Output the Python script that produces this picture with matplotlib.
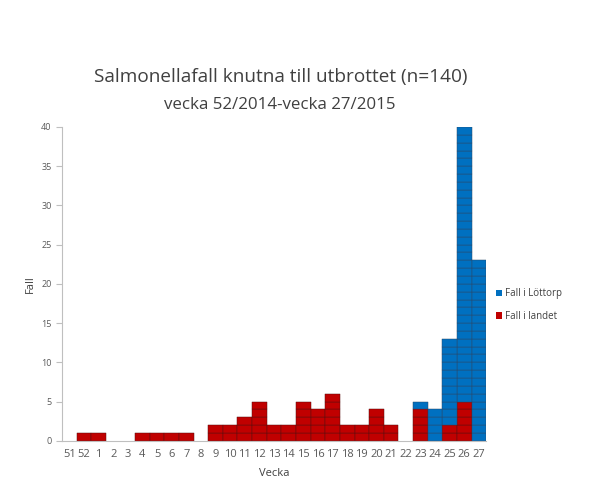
import numpy as np
import matplotlib.pyplot as plt
from matplotlib.patches import Patch

plt.rcParams['font.family'] = ['Open Sans', 'DejaVu Sans']

weeks = ['51', '52'] + [str(w) for w in range(1, 28)]
landet = [0, 1, 1, 0, 0, 1, 1, 1, 1, 0, 2, 2, 3, 5, 2, 2, 5, 4, 6, 2, 2, 4, 2, 0, 4, 0, 2, 5, 0]
lottorp = [0] * 24 + [1, 4, 11, 35, 23]

red = '#C00000'
blue = '#0070C0'

fig = plt.figure(figsize=(5.9, 4.98), dpi=100)
ax = fig.add_axes([0.105, 0.115, 0.719, 0.63])

x = np.arange(len(weeks))
landet = np.array(landet)
lottorp = np.array(lottorp)

# one box per case, red stacked under blue
for k in range(landet.max()):
    m = landet > k
    ax.bar(x[m], 1, bottom=k, width=1.0, color=red, edgecolor='#5a1010', linewidth=0.35)
for k in range(lottorp.max()):
    m = lottorp > k
    ax.bar(x[m], 1, bottom=landet[m] + k, width=1.0, color=blue, edgecolor='#2a4a6a', linewidth=0.35)

ax.set_xlim(-0.5, len(weeks) - 0.5)
ax.set_ylim(0, 40)
ax.set_yticks(range(0, 41, 5))
ax.set_xticks(x)
ax.set_xticklabels(weeks)
ax.tick_params(axis='x', length=0, pad=6, labelsize=8, colors='#595959')
ax.tick_params(axis='y', length=4, labelsize=6.5, colors='#595959', direction='out')
ax.tick_params(axis='y', color='#bfbfbf')
for s in ['top', 'right']:
    ax.spines[s].set_visible(False)
for s in ['left', 'bottom']:
    ax.spines[s].set_color('#bfbfbf')
    ax.spines[s].set_linewidth(0.8)

ax.set_xlabel('Vecka', fontsize=8, color='#404040', labelpad=6)
ax.set_ylabel('Fall', fontsize=8, color='#404040', labelpad=4)

fig.text(0.475, 0.835, 'Salmonellafall knutna till utbrottet (n=140)', ha='center',
         fontsize=13.7, color='#404040')
fig.text(0.475, 0.782, 'vecka 52/2014-vecka 27/2015', ha='center', fontsize=12.2, color='#404040')

handles = [Patch(facecolor=blue, label='Fall i Löttorp'), Patch(facecolor=red, label='Fall i landet')]
fig.legend(handles=handles, loc='center left', bbox_to_anchor=(0.825, 0.387), frameon=False,
           fontsize=7, handlelength=0.7, handleheight=0.7, handletextpad=0.3, labelspacing=1.2,
           labelcolor='#404040')

fig.savefig('out.png', dpi=100)
